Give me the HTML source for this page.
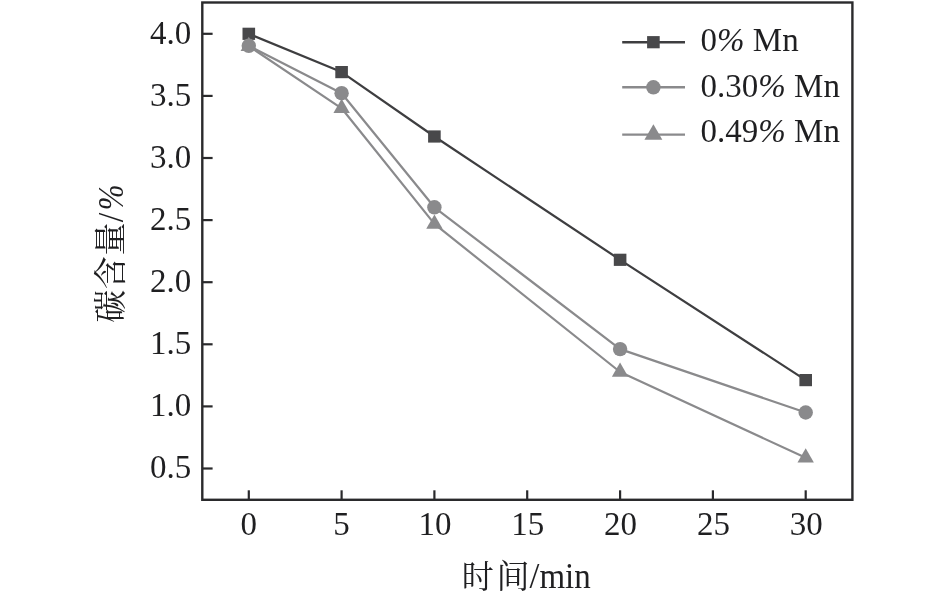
<!DOCTYPE html>
<html lang="zh"><head><meta charset="utf-8"><title>碳含量</title>
<style>
html,body{margin:0;padding:0;background:#fff;}
body{width:945px;height:601px;overflow:hidden;}
svg{display:block;}
text{font-family:"Liberation Serif","Noto Serif CJK SC",serif;font-size:33px;fill:#1f1f21;}
.cjk{font-family:"Noto Serif CJK SC","Liberation Serif",serif;font-weight:400;font-size:33px;}
.it{font-style:italic;}
</style></head><body>
<svg width="945" height="601" viewBox="0 0 945 601">
<rect width="945" height="601" fill="#ffffff"/>
<polyline points="248.8,33.8 341.6,72.1 434.4,136.5 620.1,259.8 805.7,380.1" fill="none" stroke="#3e3e40" stroke-width="2.20" stroke-linejoin="round"/>
<rect x="242.5" y="27.7" width="12.6" height="12.2" fill="#48484a"/>
<rect x="335.3" y="66.0" width="12.6" height="12.2" fill="#48484a"/>
<rect x="428.1" y="130.4" width="12.6" height="12.2" fill="#48484a"/>
<rect x="613.8" y="253.7" width="12.6" height="12.2" fill="#48484a"/>
<rect x="799.4" y="374.0" width="12.6" height="12.2" fill="#48484a"/>
<polyline points="248.8,45.8 341.6,93.2 434.4,207.3 620.1,349.1 805.7,412.5" fill="none" stroke="#8a8a8c" stroke-width="2.20" stroke-linejoin="round"/>
<circle cx="248.8" cy="45.8" r="7.2" fill="#8a8a8c"/>
<circle cx="341.6" cy="93.2" r="7.2" fill="#8a8a8c"/>
<circle cx="434.4" cy="207.3" r="7.2" fill="#8a8a8c"/>
<circle cx="620.1" cy="349.1" r="7.2" fill="#8a8a8c"/>
<circle cx="805.7" cy="412.5" r="7.2" fill="#8a8a8c"/>
<polyline points="248.8,46.2 341.6,108.3 434.4,223.9 620.1,372.0 805.7,457.8" fill="none" stroke="#8a8a8c" stroke-width="2.20" stroke-linejoin="round"/>
<polygon points="248.80,36.75 257.00,50.95 240.60,50.95" fill="#8a8a8c"/>
<polygon points="341.62,98.85 349.81,113.05 333.42,113.05" fill="#8a8a8c"/>
<polygon points="434.43,214.43 442.63,228.63 426.23,228.63" fill="#8a8a8c"/>
<polygon points="620.06,362.53 628.26,376.73 611.86,376.73" fill="#8a8a8c"/>
<polygon points="805.69,448.33 813.89,462.53 797.49,462.53" fill="#8a8a8c"/>
<rect x="202.3" y="2.5" width="650.1" height="497.3" fill="none" stroke="#2a2a2c" stroke-width="2.4"/>
<line x1="202.3" y1="33.8" x2="212.6" y2="33.8" stroke="#2a2a2c" stroke-width="2.2"/>
<text transform="translate(191.30,43.60) scale(1.000,1.030)" text-anchor="end" font-size="33.8">4.0</text>
<line x1="202.3" y1="95.9" x2="212.6" y2="95.9" stroke="#2a2a2c" stroke-width="2.2"/>
<text transform="translate(191.30,105.70) scale(1.000,1.030)" text-anchor="end" font-size="33.8">3.5</text>
<line x1="202.3" y1="158.0" x2="212.6" y2="158.0" stroke="#2a2a2c" stroke-width="2.2"/>
<text transform="translate(191.30,167.80) scale(1.000,1.030)" text-anchor="end" font-size="33.8">3.0</text>
<line x1="202.3" y1="220.1" x2="212.6" y2="220.1" stroke="#2a2a2c" stroke-width="2.2"/>
<text transform="translate(191.30,229.90) scale(1.000,1.030)" text-anchor="end" font-size="33.8">2.5</text>
<line x1="202.3" y1="282.2" x2="212.6" y2="282.2" stroke="#2a2a2c" stroke-width="2.2"/>
<text transform="translate(191.30,292.00) scale(1.000,1.030)" text-anchor="end" font-size="33.8">2.0</text>
<line x1="202.3" y1="344.3" x2="212.6" y2="344.3" stroke="#2a2a2c" stroke-width="2.2"/>
<text transform="translate(191.30,354.10) scale(1.000,1.030)" text-anchor="end" font-size="33.8">1.5</text>
<line x1="202.3" y1="406.4" x2="212.6" y2="406.4" stroke="#2a2a2c" stroke-width="2.2"/>
<text transform="translate(191.30,416.20) scale(1.000,1.030)" text-anchor="end" font-size="33.8">1.0</text>
<line x1="202.3" y1="468.5" x2="212.6" y2="468.5" stroke="#2a2a2c" stroke-width="2.2"/>
<text transform="translate(191.30,478.30) scale(1.000,1.030)" text-anchor="end" font-size="33.8">0.5</text>
<line x1="248.8" y1="499.8" x2="248.8" y2="490.3" stroke="#2a2a2c" stroke-width="2.2"/>
<text transform="translate(248.80,534.90) scale(1.000,1.030)" text-anchor="middle" font-size="33.8">0</text>
<line x1="341.6" y1="499.8" x2="341.6" y2="490.3" stroke="#2a2a2c" stroke-width="2.2"/>
<text transform="translate(341.62,534.90) scale(1.000,1.030)" text-anchor="middle" font-size="33.8">5</text>
<line x1="434.4" y1="499.8" x2="434.4" y2="490.3" stroke="#2a2a2c" stroke-width="2.2"/>
<text transform="translate(434.93,534.90) scale(1.000,1.030)" text-anchor="middle" font-size="33.8">10</text>
<line x1="527.2" y1="499.8" x2="527.2" y2="490.3" stroke="#2a2a2c" stroke-width="2.2"/>
<text transform="translate(527.75,534.90) scale(1.000,1.030)" text-anchor="middle" font-size="33.8">15</text>
<line x1="620.1" y1="499.8" x2="620.1" y2="490.3" stroke="#2a2a2c" stroke-width="2.2"/>
<text transform="translate(620.56,534.90) scale(1.000,1.030)" text-anchor="middle" font-size="33.8">20</text>
<line x1="712.9" y1="499.8" x2="712.9" y2="490.3" stroke="#2a2a2c" stroke-width="2.2"/>
<text transform="translate(713.38,534.90) scale(1.000,1.030)" text-anchor="middle" font-size="33.8">25</text>
<line x1="805.7" y1="499.8" x2="805.7" y2="490.3" stroke="#2a2a2c" stroke-width="2.2"/>
<text transform="translate(806.19,534.90) scale(1.000,1.030)" text-anchor="middle" font-size="33.8">30</text>
<text y="587.6"><tspan class="cjk" x="461.8" style="font-size:32px">时</tspan><tspan class="cjk" x="496.5">间</tspan></text>
<text transform="translate(529.40,587.60) scale(1.080,1.080)" text-anchor="start" font-size="33.0">/</text>
<text transform="translate(539.40,587.60) scale(1.000,1.070)" text-anchor="start" font-size="33.0">min</text>
<g transform="translate(122.7,322.8) rotate(-90)"><text x="0" y="-1.1" class="cjk" letter-spacing="0.6">碳含量</text><text transform="translate(100.6,0) scale(1.05,1.1)">/</text><text class="it" transform="translate(112.5,0) scale(0.935,1.09)">%</text></g>
<line x1="622.2" y1="42.2" x2="685" y2="42.2" stroke="#3e3e40" stroke-width="2.4"/>
<rect x="647.1" y="36.1" width="12.6" height="12.2" fill="#48484a"/>
<text transform="translate(700.60,51.10) scale(1.000,1.040)" text-anchor="start" font-size="33.0">0<tspan class="it">%</tspan> Mn</text>
<line x1="622.2" y1="87.3" x2="685" y2="87.3" stroke="#8a8a8c" stroke-width="2.4"/>
<circle cx="653.4" cy="87.3" r="7.2" fill="#8a8a8c"/>
<text transform="translate(700.60,96.60) scale(1.000,1.040)" text-anchor="start" font-size="33.0">0.30<tspan class="it">%</tspan> Mn</text>
<line x1="622.2" y1="134.6" x2="685" y2="134.6" stroke="#8a8a8c" stroke-width="2.4"/>
<polygon points="653.40,124.27 662.35,139.77 644.45,139.77" fill="#8a8a8c"/>
<text transform="translate(700.60,142.00) scale(1.000,1.040)" text-anchor="start" font-size="33.0">0.49<tspan class="it">%</tspan> Mn</text>
</svg></body></html>
